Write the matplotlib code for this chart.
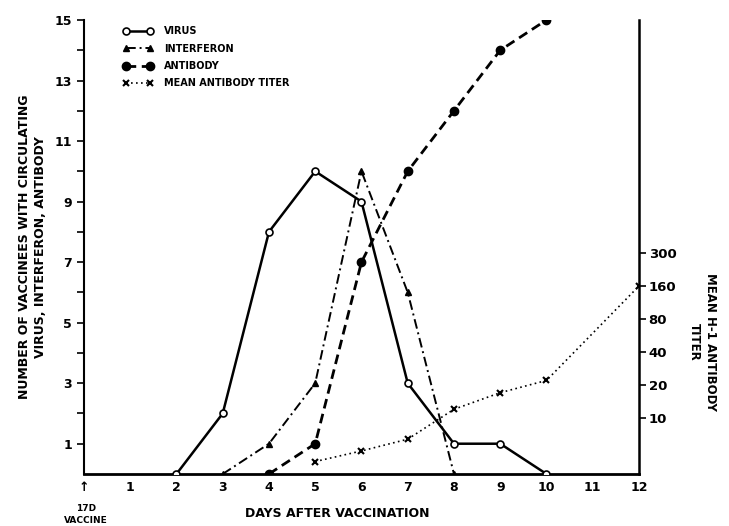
import matplotlib.pyplot as plt

days_virus = [2, 3, 4, 5, 6, 7, 8, 9, 10]
virus = [0, 2, 8, 10, 9, 3, 1, 1, 0]

days_interferon = [3, 4, 5, 6, 7, 8]
interferon = [0, 1, 3, 10, 6, 0]

days_antibody = [4, 5, 6, 7, 8, 9, 10]
antibody = [0, 1, 7, 10, 12, 14, 15]

days_titer = [5, 6, 7, 8, 9, 10, 12]
titer = [4, 5, 6.4, 12, 17, 22, 160]

x_ticks = list(range(13))
x_labels = ['↑', '1', '2', '3', '4', '5', '6', '7', '8', '9', '10', '11', '12']
left_ticks = [1, 3, 5, 7, 9, 11, 13, 15]
right_ticks = [10, 20, 40, 80, 160, 320]
right_labels = ['10', '20', '40', '80', '160', '300']

plt.rcParams['font.family'] = ['DejaVu Sans']
plt.rcParams['font.weight'] = 'bold'

fig = plt.figure(figsize=(7.29, 5.26), dpi=100)
ax = fig.add_axes([0.1152, 0.0989, 0.7613, 0.8631])

ax.plot(days_virus, virus, color='black', lw=1.8, marker='o', ms=5,
        mfc='white', mec='black', mew=1.2, label='VIRUS', zorder=4)
ax.plot(days_interferon, interferon, color='black', lw=1.4, ls=(0, (5, 2, 1, 2)),
        marker='^', ms=4, label='INTERFERON', zorder=3)
ax.plot(days_antibody, antibody, color='black', lw=2.0, ls=(0, (3.5, 2)),
        marker='o', ms=6, label='ANTIBODY', zorder=3)

ax.set_xlim(0, 12)
ax.set_ylim(0, 15)
ax.set_xticks(x_ticks)
ax.set_xticklabels(x_labels, fontsize=9, fontweight='bold')
ax.tick_params(axis='x', length=0, pad=5)
ax.set_yticks(range(1, 16), minor=True)
ax.set_yticks(left_ticks)
ax.set_yticklabels([str(v) for v in left_ticks], fontsize=9, fontweight='bold')
ax.tick_params(axis='y', which='both', length=5, width=1.2)
ax.spines['top'].set_visible(False)
ax.spines['right'].set_visible(False)
ax.spines['left'].set_linewidth(1.5)
ax.spines['bottom'].set_linewidth(2.0)

ax2 = ax.twinx()
ax2.set_yscale('log', base=2)
ax2.set_ylim(3.08, 42900)
ax2.plot(days_titer, titer, color='black', lw=1.2, ls=(0, (1, 2)),
         marker='x', ms=4, mew=1.5, label='MEAN ANTIBODY TITER')
ax2.set_yticks(right_ticks)
ax2.set_yticklabels(right_labels, fontsize=9.5, fontweight='bold')
ax2.minorticks_off()
ax2.tick_params(axis='y', length=5, width=1.2, pad=2)
ax2.spines['top'].set_visible(False)
ax2.spines['left'].set_visible(False)
ax2.spines['bottom'].set_visible(False)
ax2.spines['right'].set_linewidth(1.8)

handles = ax.get_legend_handles_labels()[0] + ax2.get_legend_handles_labels()[0]
labels = ['VIRUS', 'INTERFERON', 'ANTIBODY', 'MEAN ANTIBODY TITER']
ax.legend(handles, labels, loc='upper left', bbox_to_anchor=(0.055, 1.005),
          frameon=False, numpoints=2, handlelength=3.0, handletextpad=1.2,
          labelspacing=0.75, prop={'weight': 'bold', 'size': 7})

fig.text(0.045, 0.53, 'NUMBER OF VACCINEES WITH CIRCULATING\nVIRUS, INTERFERON, ANTIBODY',
         rotation=90, ha='center', va='center', fontsize=9, fontweight='bold',
         linespacing=1.3)
fig.text(0.963, 0.35, 'MEAN H-1 ANTIBODY\nTITER', rotation=-90, ha='center',
         va='center', fontsize=8.5, fontweight='bold', linespacing=1.3)
fig.text(0.462, 0.012, 'DAYS AFTER VACCINATION', ha='center', va='bottom',
         fontsize=9, fontweight='bold')
fig.text(0.118, 0.002, '17D\nVACCINE', ha='center', va='bottom', fontsize=6.5,
         fontweight='bold', linespacing=1.4)

fig.savefig('out.png', dpi=100)
